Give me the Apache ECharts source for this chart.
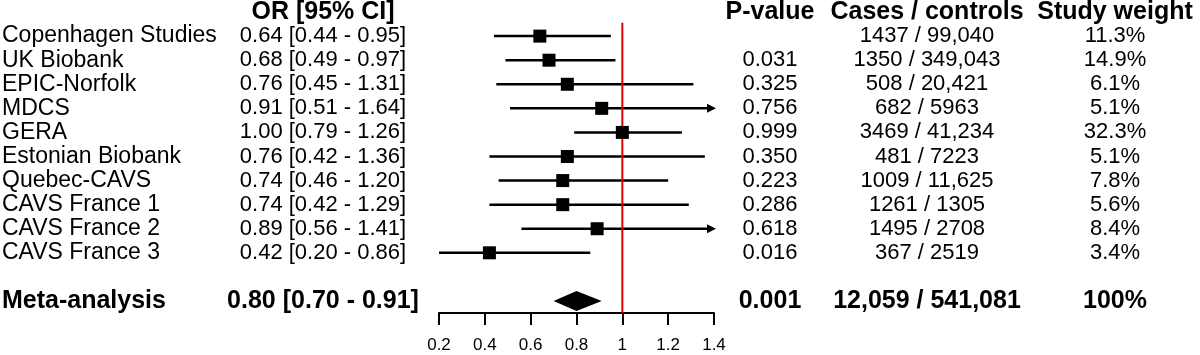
<!DOCTYPE html>
<html>
<head>
<meta charset="utf-8">
<script src="https://cdn.jsdelivr.net/npm/echarts@6/dist/echarts.min.js"></script>
<style>
html,body{margin:0;padding:0;background:#fff;}
#chart{width:1200px;height:355px;}
</style>
</head>
<body>
<div id="chart"></div>
<script>
// ---- data ----
const studies = ['Copenhagen Studies','UK Biobank','EPIC-Norfolk','MDCS','GERA','Estonian Biobank','Quebec-CAVS','CAVS France 1','CAVS France 2','CAVS France 3'];
const orEst = [0.64,0.68,0.76,0.91,1.00,0.76,0.74,0.74,0.89,0.42];
const orLow = [0.44,0.49,0.45,0.51,0.79,0.42,0.46,0.42,0.56,0.20];
const orHigh = [0.95,0.97,1.31,1.64,1.26,1.36,1.20,1.29,1.41,0.86];
const pValues = ['','0.031','0.325','0.756','0.999','0.350','0.223','0.286','0.618','0.016'];
const casesControls = ['1437 / 99,040','1350 / 349,043','508 / 20,421','682 / 5963','3469 / 41,234','481 / 7223','1009 / 11,625','1261 / 1305','1495 / 2708','367 / 2519'];
const weights = ['11.3%','14.9%','6.1%','5.1%','32.3%','5.1%','7.8%','5.6%','8.4%','3.4%'];
const metaLabel = 'Meta-analysis';
const metaEst = [0.80, 0.70, 0.91];
const metaP = '0.001';
const metaCases = '12,059 / 541,081';
const metaWeight = '100%';
const headers = ['OR [95% CI]','P-value','Cases / controls','Study weight'];
const xTicks = [0.2,0.4,0.6,0.8,1.0,1.2,1.4];

const X_MIN = xTicks[0], X_MAX = xTicks[xTicks.length-1];
const META_ROW = studies.length + 1;
const FONT = '"Liberation Sans", Arial, Helvetica, sans-serif';
const LABEL_SIZE = 23, REG = 22, BOLD = 25;
const fmt = v => v.toFixed(2);
const ciText = (e,l,h) => fmt(e) + ' [' + fmt(l) + ' - ' + fmt(h) + ']';

const colX = {label: 2, or: 323, p: 770, cases: 927, weight: 1115};

// rows of text: [row, label, orText, p, cases, weight, bold]
const textRows = [];
textRows.push([-1, '', headers[0], headers[1], headers[2], headers[3], 1]);
studies.forEach((s,i)=>textRows.push([i, s, ciText(orEst[i],orLow[i],orHigh[i]), pValues[i], casesControls[i], weights[i], 0]));
textRows.push([META_ROW, metaLabel, ciText(metaEst[0],metaEst[1],metaEst[2]), metaP, metaCases, metaWeight, 1]);

const chart = echarts.init(document.getElementById('chart'), null, {renderer:'canvas'});

function txt(x, y, s, align, bold, size){
  return {type:'text', x:x, y:y, style:{text:s, textAlign:align, textVerticalAlign:'middle',
    font:(bold?'bold ':'') + size + 'px ' + FONT, fill:'#000'}, silent:true};
}

chart.setOption({
  backgroundColor:'#fff',
  animation:false,
  grid:{left:439, right:486, top:0, bottom:42},
  xAxis:{type:'value', min:X_MIN, max:X_MAX, interval:0.2,
    axisLine:{onZero:false, lineStyle:{color:'#000', width:2}},
    axisTick:{show:true, inside:false, length:12, lineStyle:{color:'#000', width:2}},
    axisLabel:{color:'#000', fontSize:17, fontFamily:FONT, margin:24,
      formatter: v => String(Math.round(v*10)/10)},
    splitLine:{show:false}},
  yAxis:{type:'value', inverse:true, min:-1.5, max:11.5, show:false},
  series:[
    { // CI lines
      type:'custom', clip:false, z:2,
      data: studies.map((s,i)=>[orEst[i], orLow[i], orHigh[i], i]),
      renderItem:(params, api)=>{
        const lo = api.value(1), hi = api.value(2), row = api.value(3);
        const p1 = api.coord([Math.max(lo, X_MIN), row]);
        const clipped = hi > X_MAX;
        const p2 = api.coord([Math.min(hi, X_MAX), row]);
        const children = [{type:'line', shape:{x1:p1[0], y1:p1[1], x2:clipped ? p2[0]-6 : p2[0], y2:p2[1]},
          style:{stroke:'#000', lineWidth:2.5}}];
        if (clipped){
          const tip = p2[0] + 2;
          children.push({type:'polygon', shape:{points:[[tip, p2[1]],[tip-9, p2[1]-4.5],[tip-9, p2[1]+4.5]]},
            style:{fill:'#000'}});
        }
        return {type:'group', children};
      }
    },
    { // reference line at OR = 1
      type:'custom', clip:false, z:3,
      data:[[1, -0.55, 11.5]],
      renderItem:(params, api)=>{
        const a = api.coord([api.value(0), api.value(1)]);
        const b = api.coord([api.value(0), api.value(2)]);
        return {type:'line', shape:{x1:a[0], y1:a[1], x2:b[0], y2:b[1]}, style:{stroke:'#e00000', lineWidth:2}};
      }
    },
    { // squares
      type:'custom', clip:false, z:4,
      data: studies.map((s,i)=>[orEst[i], i]),
      renderItem:(params, api)=>{
        const c = api.coord([api.value(0), api.value(1)]);
        const h = 6.5;
        return {type:'rect', shape:{x:c[0]-h, y:c[1]-h, width:2*h, height:2*h}, style:{fill:'#000'}};
      }
    },
    { // meta diamond
      type:'custom', clip:false, z:4,
      data:[[metaEst[0], metaEst[1], metaEst[2], META_ROW]],
      renderItem:(params, api)=>{
        const row = api.value(3);
        const c = api.coord([api.value(0), row]);
        const l = api.coord([api.value(1), row]);
        const r = api.coord([api.value(2), row]);
        const h = 10;
        return {type:'polygon', shape:{points:[[l[0],c[1]],[c[0],c[1]-h],[r[0],c[1]],[c[0],c[1]+h]]}, style:{fill:'#000'}};
      }
    },
    { // text columns
      type:'custom', clip:false, z:5,
      data: textRows.map(r=>[X_MIN, r[0]]),
      renderItem:(params, api)=>{
        const r = textRows[params.dataIndex];
        const y = api.coord([X_MIN, api.value(1)])[1];
        const b = !!r[6];
        const sz = b ? BOLD : REG;
        const children = [];
        if (r[1]) children.push(txt(colX.label, y, r[1], 'left', b, b ? BOLD : LABEL_SIZE));
        if (r[2]) children.push(txt(colX.or, y, r[2], 'center', b, sz));
        if (r[3]) children.push(txt(colX.p, y, r[3], 'center', b, sz));
        if (r[4]) children.push(txt(colX.cases, y, r[4], 'center', b, sz));
        if (r[5]) children.push(txt(colX.weight, y, r[5], 'center', b, sz));
        return {type:'group', children};
      }
    }
  ]
});
</script>
</body>
</html>
